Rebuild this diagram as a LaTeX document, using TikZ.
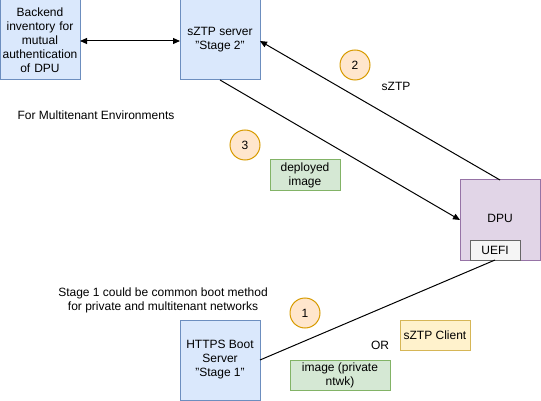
\documentclass[tikz,border=0pt]{standalone}
\usepackage{fontspec}
\setmainfont{Liberation Sans}
\usetikzlibrary{arrows.meta}
\definecolor{bluef}{HTML}{DAE8FC}\definecolor{blued}{HTML}{6C8EBF}
\definecolor{greenf}{HTML}{D5E8D4}\definecolor{greend}{HTML}{82B366}
\definecolor{orangef}{HTML}{FFE6CC}\definecolor{oranged}{HTML}{D79B00}
\definecolor{purplef}{HTML}{E1D5E7}\definecolor{purpled}{HTML}{9673A6}
\definecolor{yellowf}{HTML}{FFF2CC}\definecolor{yellowd}{HTML}{D6B656}
\definecolor{greyf}{HTML}{F5F5F5}\definecolor{greyd}{HTML}{666666}
\begin{document}
\begin{tikzpicture}[x=1pt,y=-1pt,
  every node/.style={font=\fontsize{12}{14}\selectfont, inner sep=0pt, outer sep=0pt},
  bluebox/.style={draw=blued, fill=bluef, line width=1pt, minimum width=80pt, minimum height=80pt, align=center},
  greenbox/.style={draw=greend, fill=greenf, line width=1pt, align=center},
  numcirc/.style={circle, draw=oranged, fill=orangef, line width=1pt, minimum size=30pt},
  conn/.style={draw=black, line width=1pt},
  tip/.style={-{Triangle[length=7pt,width=6pt]}}
]
\useasboundingbox (0,0) rectangle (541,401);
\node[bluebox, text width=78pt] (backend) at (40,40) {Backend\\inventory for\\mutual\\authentication\\of DPU};
\node[bluebox] (sztp) at (220,40) {sZTP server\\"Stage 2"};
\node[bluebox] (https) at (220,360) {HTTPS Boot\\Server\\"Stage 1"};
\node[draw=purpled, fill=purplef, line width=1pt, minimum width=80pt, minimum height=80pt] (dpu) at (500,220) {};
\node at (500,218) (dpulabel) {DPU};
\node[draw=greyd, fill=greyf, line width=1pt, minimum width=50pt, minimum height=20pt] (uefi) at (495,250) {UEFI};
\node[numcirc] (c2) at (355,65) {2};
\node[numcirc] (c3) at (245,145) {3};
\node[numcirc] (c1) at (305,313) {1};
\node (sztplabel) at (396,86) {sZTP};
\node[greenbox, minimum width=70pt, minimum height=30pt] (deployed) at (305,175) {deployed\\image};
\node[greenbox, minimum width=100pt, minimum height=30pt] (imgpriv) at (340,375) {image (private\\ntwk)};
\node[draw=yellowd, fill=yellowf, line width=1pt, minimum width=70pt, minimum height=30pt] (client) at (435,335) {sZTP Client};
\node (or) at (380,345) {OR};
\node (multi) at (96,115) {For Multitenant Environments};
\node[align=center] (stage1) at (163,300) {Stage 1 could be common boot method\\for private and multitenant networks};
\coordinate (dputop) at (500,180);
\coordinate (sztpright) at (260,41);
\coordinate (sztpbot) at (220,80);
\coordinate (dpuleft) at (460,220);
\coordinate (uefibot) at (495,260);
\coordinate (httpsright) at (260,360);
\draw[conn, {Triangle[length=7pt,width=6pt]}-{Triangle[length=7pt,width=6pt]}] (backend.east |- 0,41) -- (sztp.west |- 0,41);
\draw[conn, tip] (dputop) -- (sztpright);
\draw[conn, tip] (sztpbot) -- (dpuleft);
\draw[conn] (uefibot) -- (httpsright);
\end{tikzpicture}
\end{document}
